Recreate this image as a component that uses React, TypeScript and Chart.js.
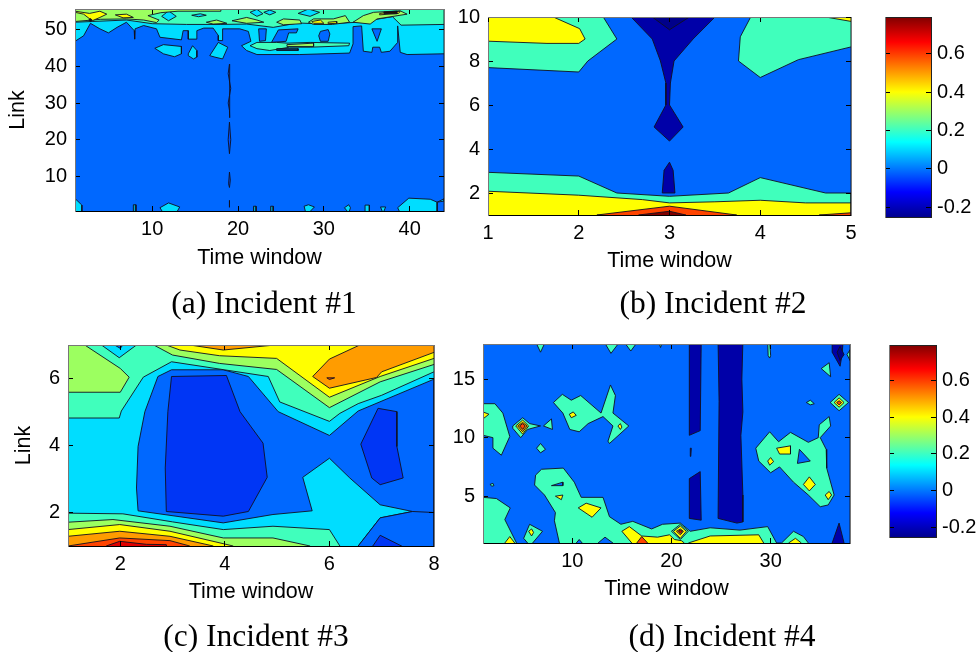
import React, { useEffect, useRef } from "react";
import { Chart, registerables } from "chart.js";
Chart.register(...registerables);

type Pt = [number, number];
const NAVY = "#0000a8", DEEP = "#00008a", BLUE = "#0036f5", AZURE = "#0068ff", CYAN = "#00ddff", MINT = "#40ffbc",
  LIME = "#9cff60", YELLOW = "#ffff00", ORANGE = "#ff9c00", HOT = "#ff4400", RED = "#e00000", MAROON = "#800000", DARK = "#0a3060";

const colorbarTicks = [-0.2, 0, 0.2, 0.4, 0.6];
const colorbarRange = [-0.25, 0.79];

// ---------- Incident 1 ----------
const a_xTicks = [10, 20, 30, 40];
const a_yTicks = [10, 20, 30, 40, 50];
const a_all: Pt[] = [[1, 0], [44, 0], [44, 56], [1, 56]];
const a_cyanTop: Pt[] = [[1, 46.8], [2, 48.3], [2.8, 51.7], [3.9, 50.2], [4.9, 49.1], [5.9, 50.6], [7, 52], [7.9, 49.7], [7.95, 47.4], [8, 50.2], [9, 51.1], [10.5, 50.2], [10.9, 47.9], [13.4, 47.2], [13.6, 49.7], [14.2, 49.7], [14.2, 47.4], [15.2, 47.4], [15.2, 49.7], [16, 50.4], [17.1, 50.4], [17.7, 48.4], [17.7, 47], [18.2, 47], [18.2, 50.2], [20.2, 50.2], [21.2, 49.5], [21.5, 46.8], [20.4, 45.6], [21, 44.3], [22.2, 43.2], [27.2, 43.2], [33, 43.6], [33.4, 46.1], [33.4, 50.8], [34.4, 51], [34.6, 44.1], [35.6, 43.8], [35.7, 45.2], [36.5, 45.2], [36.7, 43.8], [37.7, 44.1], [38.6, 46.5], [38.6, 51], [38.9, 43.8], [39.7, 43.2], [44, 43.4], [44, 56], [1, 56]];
const a_hole1: Pt[] = [[22.4, 50.2], [23.3, 50.2], [23.2, 47], [22.5, 46.8]];
const a_hole2: Pt[] = [[23.9, 46.5], [24.7, 49.9], [27, 50.2], [26.8, 49.1], [25.9, 49.1], [25.6, 46.8]];
const a_hole3: Pt[] = [[29.6, 49.5], [30.5, 50], [30.7, 48.8], [30.5, 46.8], [29.6, 46.8], [29.4, 48.3]];
const a_hole4: Pt[] = [[35.6, 50.2], [36.7, 50.2], [36.2, 46.8]];
const a_blob1: Pt[] = [[10.3, 44.9], [11.3, 45.9], [13.4, 45.4], [13.4, 43.4], [12.6, 42.6], [11.3, 43.4]];
const a_blob2: Pt[] = [[14.2, 43.4], [14.7, 45.6], [15.2, 44.3], [15.2, 42.5], [14.8, 42], [14.2, 42.9]];
const a_blob3: Pt[] = [[16.7, 42.9], [17.7, 46.5], [18.8, 45.2], [18.2, 42], [17.3, 42.5]];
const a_mintBand: Pt[] = [[1, 52], [3, 52.2], [7, 52.6], [10, 51.6], [14, 51.4], [18, 51.4], [21, 51.5], [24.1, 50.6], [27, 51.8], [30, 51.5], [34, 52], [38, 53.5], [39, 51.2], [44, 51.4], [44, 56], [1, 56]];
const a_mintLow: Pt[] = [[21.4, 45.6], [22.2, 46.5], [24.5, 46.5], [25.7, 46.3], [28.4, 46.5], [33, 46.3], [32.9, 45.6], [28.4, 45.2], [26, 45.2], [23.7, 44.3], [22.2, 44.8]];
const a_limeLow: Pt[] = [[25.7, 45.9], [28.8, 46.3], [28.8, 45.4], [25.7, 45.4]];
const a_slit: Pt[] = [[24.5, 44.8], [27, 44.8], [27, 44.3], [24.5, 44.3]];
const a_cyanHoleTop1: Pt[] = [[11.1, 53.6], [11.9, 55.1], [12.8, 53.6], [11.9, 52.4]];
const a_cyanHoleTop2: Pt[] = [[21.4, 54.7], [22.2, 55.5], [22.9, 54.3], [22.2, 53.6]];
const a_cyanHoleTop3: Pt[] = [[23, 54.7], [23.7, 55.3], [24.4, 54.7], [23.7, 54]];
const a_cyanHoleTop4: Pt[] = [[27, 54.4], [28.2, 55.6], [29.5, 54.7], [28.4, 53.6]];
const a_cyanHoleTop5: Pt[] = [[14.6, 53.9], [15.6, 54.3], [16.3, 53.9], [15.4, 53.5]];
const a_limeLeft: Pt[] = [[1, 52.2], [4, 52.8], [7, 52.9], [9, 52.6], [10.5, 51.9], [10.8, 52.6], [9.5, 53.8], [11, 54.6], [13, 55], [18, 55], [18, 56], [1, 56]];
const a_lime2: Pt[] = [[16.3, 52], [17.5, 52.6], [18.7, 51.7], [17.1, 51.5]];
const a_lime3: Pt[] = [[19.3, 52.4], [21, 53.3], [22.2, 52.6], [23, 52], [21, 51.7]];
const a_lime4: Pt[] = [[24.5, 52], [25.3, 52.9], [27.2, 52.6], [27.4, 51.6], [25.3, 51.3]];
const a_lime5: Pt[] = [[28.2, 52], [28.8, 52.9], [31.1, 52.9], [32.5, 53.8], [33, 52], [31, 51.4], [28.8, 51.4]];
const a_lime6: Pt[] = [[33.4, 52], [34.6, 53.8], [35.8, 54.7], [38.9, 55.1], [39.7, 54.2], [36.2, 52.9], [35.4, 51.5]];
const a_yellow1: Pt[] = [[1, 54.7], [2, 54.2], [3, 52.4], [3.9, 53.3], [4.7, 54.2], [3.9, 55], [2.7, 54.4], [1, 55]];
const a_yellow2: Pt[] = [[5.7, 54], [7, 54.2], [7.8, 53.3], [6.6, 53.2]];
const a_yellow3: Pt[] = [[28.6, 52.2], [29.6, 52.6], [30, 51.7], [28.8, 51.7]];
const a_yellow4: Pt[] = [[30.5, 52], [31.5, 52.2], [31.5, 51.7], [30.5, 51.6]];
const a_yellow5: Pt[] = [[36.5, 54.4], [38.9, 55], [38.7, 54.4], [36.5, 54]];
const a_dark1: Pt[] = [[37, 54.8], [38.5, 55], [38.5, 54.3], [37, 54.4]];
const a_dark2: Pt[] = [[2.6, 52.6], [2.8, 53], [3, 52.6], [2.8, 52.2]];
const a_spike1: Pt[] = [[19, 40.6], [18.85, 38], [19, 36], [19.15, 34], [19, 32], [18.85, 30], [19, 28], [19.05, 26]];
const a_spike2: Pt[] = [[19, 24.8], [18.85, 20], [19, 16.2], [19.15, 20]];
const a_spike3: Pt[] = [[19, 11.2], [18.9, 8], [19, 7], [19.1, 9]];
const a_spike4: Pt[] = [[19, 3.5], [18.98, 2], [19, 1.6], [19.02, 2]];
const a_low1: Pt[] = [[1, 4], [1.8, 2.2], [1.8, 0], [1, 0]];
const a_low2: Pt[] = [[7.8, 2.3], [8.1, 2.3], [8.1, 0], [7.8, 0]];
const a_low3: Pt[] = [[10.9, 1.5], [11.9, 2.8], [13.2, 1.7], [12.8, 0], [11.3, 0]];
const a_low4: Pt[] = [[21.8, 1.9], [22.1, 1.9], [22.1, 0], [21.8, 0]];
const a_low5: Pt[] = [[23.8, 1.9], [24.1, 1.9], [24.1, 0], [23.8, 0]];
const a_low6: Pt[] = [[27.7, 1.9], [28.2, 2.3], [28.9, 1.7], [28.2, 0], [27.9, 0]];
const a_low7: Pt[] = [[32.4, 1.5], [32.9, 2.3], [33.1, 1.5], [32.9, 0]];
const a_low8: Pt[] = [[34.8, 2.2], [35.3, 2.2], [35.3, 0], [34.8, 0]];
const a_low9: Pt[] = [[36.6, 1.7], [37.2, 1.7], [36.9, 0]];
const a_low10: Pt[] = [[38.6, 1.5], [39.9, 4.1], [42.4, 3.8], [43.2, 3], [43.2, 0], [38.9, 0]];
const a_low11: Pt[] = [[43.2, 3], [44, 3.9], [44, 3.3]];

// ---------- Incident 2 ----------
const b_xTicks = [1, 2, 3, 4, 5];
const b_yTicks = [2, 4, 6, 8, 10];
const b_all: Pt[] = [[1, 0], [5, 0], [5, 11], [1, 11]];
const b_mintLeft: Pt[] = [[1, 7.7], [2, 7.5], [2.1, 8], [2.42, 9], [2.24, 10.2], [1, 10.2]];
const b_yellowLeft: Pt[] = [[1, 8.9], [1.65, 8.8], [2, 8.8], [2.07, 9], [2.01, 9.47], [1.72, 10], [1.6, 10.2], [1, 10.2]];
const b_mintRight: Pt[] = [[3.92, 10.2], [3.78, 9.1], [3.76, 8], [4, 7.25], [4.42, 8.06], [5, 8.64], [5, 10.2]];
const b_yellowRight: Pt[] = [[4.72, 10], [5, 9.8], [5, 10.2], [4.72, 10.2]];
const b_navyTop: Pt[] = [[2.53, 10.2], [2.81, 9], [2.9, 8], [2.96, 7], [2.96, 6], [2.83, 5], [3, 4.36], [3.15, 5], [3, 6], [3.01, 7], [3.05, 8], [3.26, 9], [3.55, 10.2]];
const b_deepTop: Pt[] = [[2.81, 10], [3, 9.42], [3.22, 10], [3.22, 10.2], [2.81, 10.2]];
const b_navyLow: Pt[] = [[2.92, 2], [2.94, 3.03], [3, 3.4], [3.04, 3.03], [3.06, 2]];
const b_mintLow: Pt[] = [[1, 2.94], [2, 2.77], [2.42, 2], [3, 1.85], [3.65, 2], [4, 2.7], [4.72, 2], [5, 2], [5, 0], [1, 0]];
const b_yellowLow: Pt[] = [[1, 2.08], [2, 1.9], [2.7, 1.7], [3, 1.55], [3.5, 1.6], [4, 1.67], [4.5, 1.55], [5, 1.55], [5, 0], [1, 0]];
const b_hotLow: Pt[] = [[2.2, 1], [3, 1.4], [3.74, 1], [3, 0.8]];
const b_maroonLow: Pt[] = [[2.66, 1], [3, 1.17], [3.18, 1], [3, 0.8]];
const b_hotRight: Pt[] = [[4.65, 1], [5, 1.1], [5, 0.9]];

// ---------- Incident 3 ----------
const c_xTicks = [2, 4, 6, 8];
const c_yTicks = [2, 4, 6];
const c_all: Pt[] = [[1, 0], [8, 0], [8, 8], [1, 8]];
const c_azure: Pt[] = [[2.34, 2.05], [2.31, 2.73], [2.34, 3.97], [2.47, 5.01], [2.72, 6.06], [2.98, 6.26], [3.97, 6.26], [4.45, 6.06], [5.02, 5.01], [6, 4.3], [6.55, 5.03], [8, 5.98], [8, 0.8], [6.55, 0.8], [6.55, 1], [6.97, 1.84], [7.59, 2.03], [6.97, 2.23], [6.39, 3.03], [6, 3.62], [5.49, 3.05], [5.67, 2.05], [4.92, 1.94], [3.97, 1.69]];
const c_azureCorner: Pt[] = [[6.55, 1], [6.97, 1.84], [7.59, 2.03], [8, 2], [8, 0.8], [6.55, 0.8]];
const c_blueBig: Pt[] = [[2.98, 6.06], [4.03, 6.09], [4.29, 5.01], [4.73, 4.07], [4.81, 3.05], [4.45, 2.03], [3.97, 1.89], [2.88, 2.03], [2.86, 3.33], [2.91, 5.01]];
const c_blueSmall: Pt[] = [[6.93, 5.11], [7.29, 5.01], [7.29, 3.97], [7.41, 3.03], [6.97, 2.83], [6.81, 3.03], [6.6, 4.04]];
const c_blueLow: Pt[] = [[6.83, 1], [6.97, 1.32], [7.38, 1], [7, 0.8]];
const c_mintTop: Pt[] = [[1, 4.82], [1.98, 4.82], [2.02, 5.03], [2.44, 6.04], [2.98, 6.5], [4.83, 6.06], [5.05, 5.3], [6, 4.72], [6.2, 4.96], [6.55, 5.25], [7, 5.5], [8, 6.2], [8, 7.2], [1, 7.2]];
const c_cyanNotch: Pt[] = [[1.64, 7.2], [1.64, 7], [1.98, 6.62], [2.31, 7], [2.31, 7.2]];
const c_azureNotch: Pt[] = [[1.89, 7], [2, 6.9], [2.05, 7], [2.05, 7.2], [1.89, 7.2]];
const c_limeLeft: Pt[] = [[1, 5.59], [2, 5.59], [2.17, 6.04], [2, 6.3], [1.32, 7], [1.2, 7.2], [1, 7.2]];
const c_limeTop: Pt[] = [[2.64, 7], [3, 6.7], [3.9, 6.45], [4.99, 6.27], [6, 5.13], [6.97, 5.9], [8, 6.42], [8, 7.2], [2.64, 7.2]];
const c_yellowTop: Pt[] = [[2.88, 7], [3.14, 6.85], [3.9, 6.68], [4.99, 6.6], [6, 5.44], [6.97, 6.06], [8, 6.6], [8, 7.2], [2.88, 7.2]];
const c_orangeTop: Pt[] = [[3.33, 7], [3.97, 6.85], [4.96, 7], [4.96, 7.2], [3.33, 7.2]];
const c_orangeRight: Pt[] = [[6.58, 7], [6, 6.58], [5.68, 6.06], [6, 5.71], [6.9, 6.03], [7, 6.2], [8, 6.78], [8, 7.2], [6.58, 7.2]];
const c_hotDot: Pt[] = [[5.95, 6.02], [6.1, 6.02], [6, 5.97]];
const c_mintLow: Pt[] = [[1, 1.98], [2.05, 1.96], [3, 1.72], [3.97, 1.49], [4.92, 1.59], [6, 1.49], [6.2, 1], [6.2, 0.8], [1, 0.8]];
const c_limeLow: Pt[] = [[1, 1.71], [1.86, 1.79], [2.95, 1.59], [3.97, 1.24], [4.92, 1.24], [5.63, 1], [5.63, 0.8], [1, 0.8]];
const c_yellowLow: Pt[] = [[1, 1.49], [1.99, 1.64], [2.95, 1.44], [4.16, 1], [4.16, 0.8], [1, 0.8]];
const c_orangeLow: Pt[] = [[1, 1.29], [1.99, 1.44], [2.95, 1.29], [3.78, 1], [3.78, 0.8], [1, 0.8]];
const c_hotLow: Pt[] = [[1, 1], [1.99, 1.24], [2.95, 1.16], [3.33, 1], [3.33, 0.8], [1, 0.8]];
const c_redLow: Pt[] = [[1.73, 1], [1.99, 1.14], [2.5, 1.05], [2.88, 1.04], [2.9, 0.8], [1.73, 0.8]];

// ---------- Incident 4 ----------
const d_xTicks = [10, 20, 30];
const d_yTicks = [5, 10, 15];
const d_all: Pt[] = [[1, 0], [38, 0], [38, 19], [1, 19]];
const d_leftMid: Pt[] = [[1, 12.9], [2.2, 12.9], [3, 12.1], [3.7, 10.1], [2.85, 8.5], [2, 9.1], [2, 10], [1, 10.2]];
const d_leftYellow: Pt[] = [[1, 12.2], [1.6, 12], [1, 11.6]];
const d_top1: Pt[] = [[6.3, 18.2], [6.8, 17.3], [7.3, 18.2]];
const d_top2: Pt[] = [[13.2, 18.2], [13.9, 17.2], [14.8, 18.2]];
const d_top3: Pt[] = [[15.2, 18.2], [15.9, 17.4], [16.6, 18.2]];
const d_top4: Pt[] = [[18.7, 18.2], [18.9, 17.7], [19.1, 18.2]];
const d_gemMint: Pt[] = [[4, 11], [5, 11.7], [5.7, 11.2], [6.8, 11], [5.5, 10.7], [4.8, 10], [4, 10.8]];
const d_gemYellow: Pt[] = [[4.3, 11], [5, 11.5], [5.6, 11], [5, 10.3]];
const d_gemOrange: Pt[] = [[4.5, 11], [5, 11.3], [5.45, 11], [5, 10.5]];
const d_gemRed: Pt[] = [[4.7, 11], [5, 11.2], [5.25, 11], [5, 10.7]];
const d_dot1: Pt[] = [[7.1, 11], [7.9, 11.6], [8, 10.7]];
const d_dot2: Pt[] = [[6.4, 9.1], [6.8, 9.5], [7.3, 9], [6.8, 8.7]];
const d_midBlob: Pt[] = [[8.1, 13], [9, 13.7], [9.9, 13.2], [10.85, 13.6], [12.9, 12.1], [13.85, 14.5], [14.35, 13.6], [14.1, 12.1], [15.7, 11], [13.75, 9.5], [13.6, 9.7], [14.1, 11], [13.1, 11.8], [11.6, 11.2], [10.7, 10.5], [9.75, 10.7], [9.05, 12.1]];
const d_midY1: Pt[] = [[9.7, 12], [10.1, 12.2], [10.4, 11.9], [9.9, 11.7]];
const d_midY2: Pt[] = [[14.6, 11], [14.85, 11.2], [15, 10.9], [14.85, 10.7]];
const d_lowLeft: Pt[] = [[1, 4.9], [2.35, 4.8], [3.75, 4], [3.2, 3], [4.5, 0.8], [1, 0.8]];
const d_lowLeftY: Pt[] = [[3.2, 1], [3.7, 1.55], [4.2, 1], [4.2, 0.8], [3.2, 0.8]];
const d_lowDot: Pt[] = [[5.1, 1.4], [5.7, 2.6], [7, 2], [6, 1], [6, 0.8], [5.5, 0.8], [5.5, 1]];
const d_lowDotY: Pt[] = [[5.6, 2], [5.9, 2.2], [6.1, 1.9], [5.9, 1.6]];
const d_lowBig: Pt[] = [[6.2, 5.95], [6.3, 6.8], [6.9, 7.3], [9.1, 7.4], [10.2, 6.2], [10.9, 4.9], [13.1, 4.9], [13.75, 3.25], [14.9, 2.6], [16.1, 2.85], [18, 2.2], [19.1, 2.6], [20.9, 2.7], [21.9, 2], [23.9, 2.3], [26.9, 2.1], [29.7, 2.4], [30.6, 1], [31.1, 1], [32.3, 2], [33.3, 1.55], [33.8, 1], [33.8, 0.8], [8.7, 0.8], [8.7, 1], [8.2, 2.9], [8.3, 3.6], [7.2, 5.1]];
const d_holeA: Pt[] = [[10.4, 1], [10.7, 1.3], [11, 1], [11, 0.8], [10.4, 0.8]];
const d_holeB: Pt[] = [[12.6, 1], [13.3, 1.5], [14.1, 1], [14.1, 0.8], [12.6, 0.8]];
const d_holeC: Pt[] = [[7.9, 5.9], [9.05, 6.2], [9.05, 5.9]];
const d_yA: Pt[] = [[8.3, 5], [9.05, 5.1], [8.9, 4.7]];
const d_yB: Pt[] = [[10.6, 4], [11.4, 4.4], [12.9, 4], [12, 3.2]];
const d_speck: Pt[] = [[1.7, 6], [2, 6.1], [2.1, 5.9], [1.9, 5.85]];
const d_yLow: Pt[] = [[15, 2], [15.75, 2.4], [17, 1.6], [18.6, 1.5], [19.8, 1.7], [20.3, 1.3], [21, 1.2], [21.3, 1], [21.3, 0.8], [16, 0.8], [16, 1]];
const d_hotLow: Pt[] = [[16.5, 1], [17, 1.55], [17.6, 1], [17.6, 0.8], [16.5, 0.8]];
const d_gem2Mint: Pt[] = [[20, 2], [20.9, 2.6], [21.7, 2], [20.9, 1.3]];
const d_gem2Yellow: Pt[] = [[20.2, 2], [20.9, 2.45], [21.5, 2], [20.9, 1.4]];
const d_gem2Orange: Pt[] = [[20.5, 2], [20.9, 2.2], [21.2, 2], [20.9, 1.7]];
const d_gem2Red: Pt[] = [[20.7, 2], [20.9, 2.1], [21.1, 2], [20.9, 1.85]];
const d_bar1Top: Pt[] = [[21.8, 18.2], [23, 18.2], [22.9, 10.6], [21.8, 10.2]];
const d_bar1Low: Pt[] = [[21.8, 6.5], [22.9, 7.1], [23, 2.95], [21.8, 3.1]];
const d_bar2: Pt[] = [[24.7, 18.2], [27.2, 18.2], [27.1, 15], [27.2, 12.2], [27, 10.2], [27.2, 5.1], [27.2, 2.8], [26.6, 2.7], [24.7, 3.1], [24.8, 13.1]];
const d_sliver: Pt[] = [[21.9, 9.1], [22, 9.1], [21.95, 8.4]];
const d_tick: Pt[] = [[29.7, 18.2], [29.9, 18.2], [30, 17], [29.9, 16.8], [29.75, 17]];
const d_navyCorner: Pt[] = [[36.2, 18.2], [37.3, 18.2], [37.2, 17.1], [37, 16.1], [36.2, 17.3]];
const d_deepCorner: Pt[] = [[36.7, 17.3], [37, 17.8], [37.4, 17.1], [37, 16.6]];
const d_edge: Pt[] = [[37.7, 17.1], [38, 17.5], [38, 16.6]];
const d_r1: Pt[] = [[35.1, 15.9], [35.9, 16.4], [36.05, 15.2]];
const d_r2: Pt[] = [[33.6, 13], [34, 13.2], [34.4, 12.9], [34, 12.8]];
const d_gem3Mint: Pt[] = [[36, 13], [36.9, 13.7], [37.85, 13], [36.9, 12.3]];
const d_gem3Yellow: Pt[] = [[36.4, 13], [36.9, 13.4], [37.4, 13], [36.9, 12.6]];
const d_gem3Red: Pt[] = [[36.65, 13], [36.9, 13.15], [37.15, 13], [36.9, 12.8]];
const d_rightBlob: Pt[] = [[28.5, 9.1], [29.9, 10.5], [30.8, 9.65], [32, 10.45], [33.8, 9.6], [34.8, 10], [34.9, 11.1], [35.9, 11.8], [36.05, 11], [35, 10], [35.6, 9], [35.65, 7.4], [36.4, 5.1], [35.8, 4.25], [35, 4.1], [33.8, 5.1], [32.3, 6.2], [30.9, 7.5], [30, 7], [28.8, 8]];
const d_rightHole: Pt[] = [[32.9, 9], [34, 8], [32.7, 7.8]];
const d_rY1: Pt[] = [[30.6, 9.1], [32, 9.3], [32, 8.6], [30.9, 8.6]];
const d_rY2: Pt[] = [[29.7, 8], [30, 8.3], [30.3, 7.95], [29.9, 7.65]];
const d_rY3: Pt[] = [[33.3, 6], [33.9, 6.65], [34.5, 6], [33.9, 5.45]];
const d_rY4: Pt[] = [[35.5, 5.1], [35.9, 5.4], [36.15, 5.1], [35.8, 4.7]];
const d_yBase1: Pt[] = [[21.7, 1], [23.9, 1.6], [28.8, 1.7], [29.3, 1], [29.3, 0.8], [21.7, 0.8]];
const d_yBase2: Pt[] = [[31.8, 1], [32.5, 1.4], [33.1, 1], [33.1, 0.8], [31.8, 0.8]];
const d_navyBase: Pt[] = [[36.2, 1], [36.9, 2.7], [37.4, 1], [37.4, 0.8], [36.2, 0.8]];

type Layer = [Pt[], string];
const layersA: Layer[] = [
  [a_all, AZURE], [a_cyanTop, CYAN], [a_hole1, AZURE], [a_hole2, AZURE], [a_hole3, AZURE], [a_hole4, AZURE],
  [a_blob1, CYAN], [a_blob2, CYAN], [a_blob3, CYAN], [a_mintBand, MINT], [a_mintLow, MINT], [a_limeLow, LIME], [a_slit, DARK],
  [a_cyanHoleTop1, CYAN], [a_cyanHoleTop2, CYAN], [a_cyanHoleTop3, CYAN], [a_cyanHoleTop4, CYAN], [a_cyanHoleTop5, CYAN],
  [a_limeLeft, LIME], [a_lime2, LIME], [a_lime3, LIME], [a_lime4, LIME], [a_lime5, LIME], [a_lime6, LIME],
  [a_yellow1, YELLOW], [a_yellow2, YELLOW], [a_yellow3, YELLOW], [a_yellow4, YELLOW], [a_yellow5, YELLOW], [a_dark1, "#201000"], [a_dark2, "#201000"],
  [a_spike1, "#0050ff"], [a_spike2, "#0050ff"], [a_spike3, "#0050ff"], [a_spike4, "#0050ff"],
  [a_low1, CYAN], [a_low2, "#00a8c8"], [a_low3, CYAN], [a_low4, "#00a8c8"], [a_low5, "#00a8c8"], [a_low6, CYAN], [a_low7, CYAN], [a_low8, CYAN], [a_low9, CYAN], [a_low10, CYAN], [a_low11, CYAN],
];
const layersB: Layer[] = [
  [b_all, AZURE], [b_mintLeft, MINT], [b_yellowLeft, YELLOW], [b_mintRight, MINT], [b_yellowRight, YELLOW],
  [b_navyTop, NAVY], [b_deepTop, DEEP], [b_navyLow, NAVY], [b_mintLow, MINT], [b_yellowLow, YELLOW], [b_hotLow, HOT], [b_maroonLow, MAROON], [b_hotRight, HOT],
];
const layersC: Layer[] = [
  [c_all, CYAN], [c_azure, AZURE], [c_azureCorner, AZURE], [c_blueBig, BLUE], [c_blueSmall, BLUE], [c_blueLow, BLUE],
  [c_mintTop, MINT], [c_cyanNotch, CYAN], [c_azureNotch, AZURE], [c_limeLeft, LIME], [c_limeTop, LIME], [c_yellowTop, YELLOW], [c_orangeTop, ORANGE], [c_orangeRight, ORANGE], [c_hotDot, HOT],
  [c_mintLow, MINT], [c_limeLow, LIME], [c_yellowLow, YELLOW], [c_orangeLow, ORANGE], [c_hotLow, HOT], [c_redLow, RED],
];
const layersD: Layer[] = [
  [d_all, AZURE], [d_leftMid, MINT], [d_leftYellow, YELLOW], [d_top1, MINT], [d_top2, MINT], [d_top3, MINT], [d_top4, MINT],
  [d_gemMint, MINT], [d_gemYellow, YELLOW], [d_gemOrange, ORANGE], [d_gemRed, HOT], [d_dot1, MINT], [d_dot2, MINT],
  [d_midBlob, MINT], [d_midY1, YELLOW], [d_midY2, YELLOW], [d_lowLeft, MINT], [d_lowLeftY, YELLOW], [d_lowDot, MINT], [d_lowDotY, YELLOW],
  [d_lowBig, MINT], [d_holeA, AZURE], [d_holeB, AZURE], [d_holeC, AZURE], [d_yA, YELLOW], [d_yB, YELLOW], [d_speck, MINT],
  [d_yLow, YELLOW], [d_hotLow, HOT], [d_gem2Mint, MINT], [d_gem2Yellow, YELLOW], [d_gem2Orange, ORANGE], [d_gem2Red, RED],
  [d_bar1Top, NAVY], [d_bar1Low, NAVY], [d_bar2, NAVY], [d_sliver, NAVY], [d_tick, MINT], [d_navyCorner, NAVY], [d_deepCorner, DEEP], [d_edge, MINT],
  [d_r1, MINT], [d_r2, MINT], [d_gem3Mint, MINT], [d_gem3Yellow, YELLOW], [d_gem3Red, HOT],
  [d_rightBlob, MINT], [d_rightHole, AZURE], [d_rY1, YELLOW], [d_rY2, YELLOW], [d_rY3, YELLOW], [d_rY4, YELLOW],
  [d_yBase1, YELLOW], [d_yBase2, YELLOW], [d_navyBase, NAVY],
];

const W = 979, H = 652;
const EXTRA = 60; // canvases overhang the page so tick-label margins never push the plot area
const CW = W + EXTRA, CH = H + EXTRA;
const SANS = "'Liberation Sans', Arial, sans-serif";
const tickFont = { family: SANS, size: 20 };
const titleFont = { family: SANS, size: 21.5, lineHeight: 1.2 };
const TICK = -5;
const setTicks = (vals: number[]) => (s: any) => { s.ticks = vals.map((value) => ({ value })); };

function mirrorAxis(axis: "x" | "y", position: string, min: number, max: number, vals: number[]) {
  return {
    axis, type: "linear", position, min, max,
    afterBuildTicks: setTicks(vals),
    afterFit: (s: any) => { if (axis === "x") s.height = 0; else s.width = 0; },
    ticks: { display: false },
    grid: { drawOnChartArea: false, tickLength: TICK, color: "#000", z: 1 },
    border: { color: "#777", z: 1 },
  };
}

type Spec = {
  plot: { l: number; t: number; r: number; b: number };
  xr: number[]; yr: number[]; xt: number[]; yt: number[]; layers: Layer[]; ylab: boolean; xOff: number; yOff: number;
};

function contourConfig(p: Spec): any {
  const xH = p.xOff + 12.9;
  const yW = p.ylab ? p.yOff + 12.9 : 44;
  return {
    type: "scatter",
    data: {
      datasets: [...p.layers].reverse().map(([pts, color]) => ({
        showLine: true, fill: "shape", backgroundColor: color, borderColor: "#101020", borderWidth: 0.9,
        pointRadius: 0, tension: 0,
        data: [...pts, pts[0]].map(([x, y]) => ({ x, y })),
      })),
    },
    options: {
      responsive: false, animation: false, events: [],
      layout: { padding: { left: p.plot.l - yW, top: p.plot.t + EXTRA, right: CW - p.plot.r, bottom: H - p.plot.b - xH } },
      plugins: { legend: { display: false }, tooltip: { enabled: false } },
      scales: {
        x: {
          type: "linear", position: "bottom", min: p.xr[0], max: p.xr[1],
          afterBuildTicks: setTicks(p.xt), afterFit: (s: any) => { s.height = xH; },
          ticks: { color: "#000", font: tickFont, padding: 11, maxRotation: 0, autoSkip: false },
          grid: { drawOnChartArea: false, tickLength: TICK, color: "#000", z: 1 },
          border: { color: "#000", z: 1 },
          title: { display: true, text: "Time window", color: "#000", font: titleFont, padding: 0 },
        },
        y: {
          type: "linear", position: "left", min: p.yr[0], max: p.yr[1],
          afterBuildTicks: setTicks(p.yt), afterFit: (s: any) => { s.width = yW; },
          ticks: { color: "#000", font: tickFont, padding: 13, autoSkip: false },
          grid: { drawOnChartArea: false, tickLength: TICK, color: "#000", z: 1 },
          border: { color: "#777", z: 1 },
          title: { display: p.ylab, text: "Link", color: "#000", font: titleFont, padding: 0 },
        },
        xTop: mirrorAxis("x", "top", p.xr[0], p.xr[1], p.xt),
        yRight: mirrorAxis("y", "right", p.yr[0], p.yr[1], p.yt),
      },
    },
  };
}

function colorbarConfig(plot: { l: number; t: number; r: number; b: number }): any {
  const [lo, hi] = colorbarRange;
  const labelRoom = 50;
  return {
    type: "bar",
    data: {
      labels: ["scale"],
      datasets: [{
        data: [[lo, hi]], barPercentage: 1, categoryPercentage: 1, borderWidth: 0,
        backgroundColor: (ctx: any) => {
          const a = ctx.chart.chartArea;
          if (!a) return "transparent";
          const g = ctx.chart.ctx.createLinearGradient(0, a.bottom, 0, a.top);
          g.addColorStop(0, "#00008f"); g.addColorStop(0.125, "#0000ff"); g.addColorStop(0.375, "#00ffff");
          g.addColorStop(0.625, "#ffff00"); g.addColorStop(0.875, "#ff0000"); g.addColorStop(1, "#800000");
          return g;
        },
      }],
    },
    options: {
      responsive: false, animation: false, events: [],
      layout: { padding: { left: plot.l, top: plot.t + EXTRA, right: CW - plot.r - labelRoom, bottom: H - plot.b } },
      plugins: { legend: { display: false }, tooltip: { enabled: false } },
      scales: {
        x: {
          position: "bottom", afterFit: (s: any) => { s.height = 0; },
          ticks: { display: false }, grid: { display: false }, border: { color: "#222", z: 1 },
        },
        xTop: { axis: "x", type: "linear", position: "top", min: 0, max: 1, afterFit: (s: any) => { s.height = 0; }, ticks: { display: false }, grid: { display: false }, border: { color: "#222", z: 1 } },
        y: {
          type: "linear", position: "right", min: lo, max: hi,
          afterBuildTicks: setTicks(colorbarTicks), afterFit: (s: any) => { s.width = labelRoom; },
          ticks: { color: "#000", font: tickFont, padding: 11, autoSkip: false },
          grid: { drawOnChartArea: false, tickLength: TICK, color: "#000", z: 1 }, border: { color: "#222", z: 1 },
        },
        yLeft: mirrorAxis("y", "left", lo, hi, colorbarTicks),
      },
    },
  };
}

function Panel({ config }: { config: any }) {
  const ref = useRef<HTMLCanvasElement>(null);
  useEffect(() => {
    const chart = new Chart(ref.current!, config());
    return () => chart.destroy();
  }, []);
  return <canvas ref={ref} width={CW} height={CH} style={{ position: "absolute", left: 0, top: -EXTRA, width: CW, height: CH, filter: "blur(0.45px)" }} />;
}

const captions = [
  { text: "(a) Incident #1", x: 264, y: 303 },
  { text: "(b) Incident #2", x: 713, y: 303 },
  { text: "(c) Incident #3", x: 256, y: 636 },
  { text: "(d) Incident #4", x: 722, y: 636 },
];

const specA: Spec = { plot: { l: 75, t: 9, r: 444, b: 211 }, xr: [1, 44], yr: [0.6, 55.6], xt: a_xTicks, yt: a_yTicks, layers: layersA, ylab: true, xOff: 47, yOff: 57 };
const specB: Spec = { plot: { l: 488, t: 17, r: 851, b: 215 }, xr: [1, 5], yr: [1, 10], xt: b_xTicks, yt: b_yTicks, layers: layersB, ylab: false, xOff: 46, yOff: 0 };
const specC: Spec = { plot: { l: 68, t: 345, r: 434, b: 546 }, xr: [1, 8], yr: [1, 7], xt: c_xTicks, yt: c_yTicks, layers: layersC, ylab: true, xOff: 46, yOff: 44 };
const specD: Spec = { plot: { l: 483, t: 344, r: 850, b: 543 }, xr: [1, 38], yr: [1, 18], xt: d_xTicks, yt: d_yTicks, layers: layersD, ylab: false, xOff: 46, yOff: 0 };

export default function App() {
  return (
    <div style={{ position: "absolute", left: 0, top: 0, width: W, height: H, overflow: "hidden", background: "#fff" }}>
      <Panel config={() => contourConfig(specA)} />
      <Panel config={() => contourConfig(specB)} />
      <Panel config={() => contourConfig(specC)} />
      <Panel config={() => contourConfig(specD)} />
      <Panel config={() => colorbarConfig({ l: 885, t: 17, r: 931, b: 217 })} />
      <Panel config={() => colorbarConfig({ l: 889, t: 345, r: 936, b: 537 })} />
      {captions.map((c) => (
        <div key={c.text} style={{ position: "absolute", left: c.x - 150, top: c.y - 20, width: 300, height: 40, lineHeight: "40px", textAlign: "center", fontFamily: "'Liberation Serif', serif", fontSize: 31.5, color: "#000" }}>{c.text}</div>
      ))}
    </div>
  );
}
